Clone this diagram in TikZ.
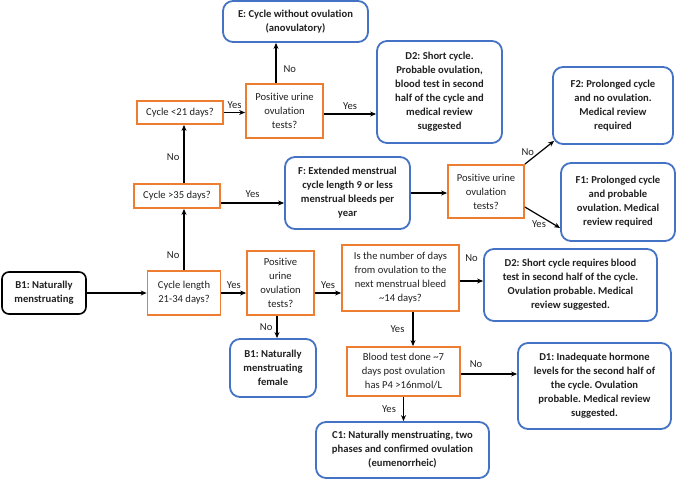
\documentclass[tikz,border=0pt]{standalone}
\usepackage{fontspec}
\setmainfont{Carlito}[Ligatures=NoCommon]
\usetikzlibrary{arrows.meta}
\frenchspacing

\definecolor{boxorange}{HTML}{ED7D31}
\definecolor{boxblue}{HTML}{4472C4}
\definecolor{txtgray}{HTML}{202020}

\begin{document}
\begin{tikzpicture}[
    x=1pt, y=-1pt,
    >={Stealth[length=6pt,width=5pt]},
    every node/.style={align=center, inner sep=1pt, text=txtgray, font=\fontsize{10.6}{14}\selectfont},
    decision/.style={draw=boxorange, line width=1.8pt, rectangle},
    outcome/.style={draw=boxblue, line width=1.8pt, rectangle, rounded corners=10pt, font=\fontsize{10.6}{14}\selectfont\bfseries},
    startbox/.style={draw=black, line width=1.6pt, rectangle, rounded corners=7pt, font=\fontsize{10.6}{14}\selectfont\bfseries},
    lbl/.style={draw=none, inner sep=0pt},
    flow/.style={->, line width=1.2pt, draw=black}
]
  \useasboundingbox (0,0) rectangle (676,479);

  % Start and cycle length questions
  \node (start) [startbox, minimum width=84pt, minimum height=42pt] at (44,293) {B1: Naturally\\menstruating};
  \node (len) [decision, minimum width=73pt, minimum height=44pt] at (184,293) {Cycle length\\21-34 days?};
  \node (gt35) [decision, minimum width=86pt, minimum height=24pt] at (177,196) {Cycle >35 days?};
  \node (lt21) [decision, minimum width=86pt, minimum height=23pt] at (180,112.5) {Cycle <21 days?};

  % Short cycle branch
  \node (posA) [decision, minimum width=77pt, minimum height=54pt] at (284.5,111) {Positive urine\\ovulation\\tests?};
  \node (E) [outcome, minimum width=145pt, minimum height=41pt] at (295.5,21.5) {E: Cycle without ovulation\\(anovulatory)};
  \node (D2a) [outcome, minimum width=125pt, minimum height=102pt] at (439.5,92) {D2: Short cycle.\\Probable ovulation,\\blood test in second\\half of the cycle and\\medical review\\suggested};

  % Long cycle branch
  \node (F) [outcome, minimum width=125pt, minimum height=72pt] at (347.5,193) {F: Extended menstrual\\cycle length 9 or less\\menstrual bleeds per\\year};
  \node (posB) [decision, minimum width=76pt, minimum height=53pt] at (486,191.5) {Positive urine\\ovulation\\tests?};
  \node (F2) [outcome, minimum width=120pt, minimum height=77pt] at (613,105.5) {F2: Prolonged cycle\\and no ovulation.\\Medical review\\required};
  \node (F1) [outcome, minimum width=114pt, minimum height=78pt] at (618,202) {F1: Prolonged cycle\\and probable\\ovulation. Medical\\review required};

  % Normal cycle branch
  \node (posC) [decision, minimum width=67pt, minimum height=64pt] at (280.5,283) {Positive\\urine\\ovulation\\tests?};
  \node (B1f) [outcome, minimum width=86pt, minimum height=58pt] at (273,368) {B1: Naturally\\menstruating\\female};
  \node (is14) [decision, minimum width=117pt, minimum height=66pt] at (400.5,278) {Is the number of days\\from ovulation to the\\next menstrual bleed\\\textasciitilde14 days?};
  \node (D2b) [outcome, minimum width=173pt, minimum height=72pt] at (570.5,285) {D2: Short cycle requires blood\\test in second half of the cycle.\\Ovulation probable. Medical\\review suggested.};
  \node (blood) [decision, minimum width=113pt, minimum height=49pt] at (403.5,371.5) {Blood test done \textasciitilde7\\days post ovulation\\has P4 >16nmol/L};
  \node (D1) [outcome, minimum width=153pt, minimum height=86pt] at (594.5,386) {D1: Inadequate hormone\\levels for the second half of\\the cycle. Ovulation\\probable. Medical review\\suggested.};
  \node (C1) [outcome, minimum width=173pt, minimum height=56pt] at (402.5,450) {C1: Naturally menstruating, two\\phases and confirmed ovulation\\(eumenorrheic)};

  % Connectors
  \draw[flow] (start) -- (len);
  \draw[flow] (len.north) -- node[lbl, pos=0.25, left=4pt] {No} (len.north |- gt35.south);
  \draw[flow] (gt35.north -| len.north) -- node[lbl, pos=0.45, left=4pt] {No} (lt21.south -| len.north);
  \draw[flow] (lt21.east) -- node[lbl, above=3pt] {Yes} (lt21.east -| posA.west);
  \draw[flow] ([xshift=-8.5pt]posA.north) -- node[lbl, pos=0.35, right=7pt] {No} ([xshift=-8.5pt]posA.north |- E.south);
  \draw[flow] ([yshift=-3pt]posA.east) -- node[lbl, above=4pt] {Yes} ([yshift=-3pt]posA.east -| D2a.west);
  \draw[flow] ([yshift=-7pt]gt35.east) -- node[lbl, above=5pt] {Yes} ([yshift=-7pt]gt35.east -| F.west);
  \draw[flow] (F.east) -- (F.east -| posB.west);
  \draw[flow] (posB.north east) -- node[lbl, pos=0.2, above=3pt, xshift=-3pt] {No} ([xshift=2pt,yshift=4pt]F2.south west);
  \draw[flow] ([yshift=-15.5pt]posB.east) -- node[lbl, pos=0.4, below=5pt] {Yes} ([yshift=-26pt]F1.west);
  \draw[flow] (len.east) -- node[lbl, above=4pt] {Yes} (len.east -| posC.west);
  \draw[flow] ([yshift=-10pt]posC.east) -- node[lbl, above=4pt] {Yes} ([yshift=-10pt]posC.east -| is14.west);
  \draw[flow] ([xshift=-3.5pt]posC.south) -- node[lbl, left=4pt] {No} ([xshift=-3.5pt]posC.south |- B1f.north);
  \draw[flow] ([yshift=-3pt]is14.east) -- node[lbl, above=19pt] {No} ([yshift=-3pt]is14.east -| D2b.west);
  \draw[flow] ([xshift=12.5pt]is14.south) -- node[lbl, left=8pt] {Yes} ([xshift=12.5pt]is14.south |- blood.north);
  \draw[flow] ([yshift=-2.5pt]blood.east) -- node[lbl, pos=0.27, above=6pt] {No} ([yshift=-2.5pt]blood.east -| D1.west);
  \draw[flow] (blood.south) -- node[lbl, left=7pt] {Yes} (blood.south |- C1.north);
\end{tikzpicture}
\end{document}
